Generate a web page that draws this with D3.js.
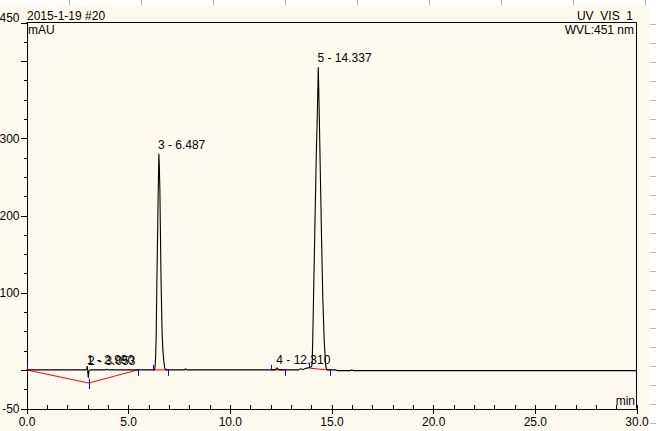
<!DOCTYPE html>
<html>
<head>
<meta charset="utf-8">
<script src="https://cdn.jsdelivr.net/npm/d3@7"></script>
<style>
  body { margin: 0; background: #ffffff; }
  text { font-family: "Liberation Sans", Arial, sans-serif; font-size: 12px; fill: #000; }
</style>
</head>
<body>
<script>
var width = 656, height = 431;

// chromatogram trace: [time (min), signal (mAU)]
var trace = [
  [0, 0], [2.90, 0], [2.96, 1], [2.99, 5], [3.01, -2], [3.04, -10], [3.07, -1], [3.12, 0],
  [3.88, 0], [3.95, 0.8], [4.03, 0],
  [6.30, 0], [6.33, 6], [6.36, 25], [6.38, 47], [6.41, 112], [6.45, 180], [6.48, 235], [6.51, 280],
  [6.53, 265], [6.56, 233], [6.59, 170], [6.62, 112], [6.67, 47], [6.71, 25], [6.75, 12], [6.80, 2], [6.86, 0],
  [7.76, 0], [7.82, 1.2], [7.90, 0],
  [12.22, 0], [12.28, 1], [12.32, 2.5], [12.36, 1], [12.45, 0],
  [13.38, 0], [13.48, 1.5], [13.60, 0.5], [13.75, 2], [13.90, 3], [14.00, 4],
  [14.03, 5], [14.05, 10], [14.08, 43], [14.13, 112], [14.18, 181], [14.25, 276], [14.30, 328], [14.35, 392],
  [14.40, 328], [14.46, 241], [14.51, 172], [14.57, 95], [14.64, 38], [14.72, 4], [14.78, 0],
  [15.20, 0], [15.30, -1], [15.92, -1], [16.00, 0], [16.08, -1], [30, -1]
];

// peak table
var peakNum = [1, 2, 3, 4, 5];
var peakRT = [2.990, 3.053, 6.487, 12.310, 14.337];
var peakApex = [1, 0.5, 280, 1, 392];

// integration baselines (red) and delimiters (blue)
var baselines = [
  [[0, 0], [3.06, -17], [5.48, 0]],
  [[6.21, 0], [6.93, 0]],
  [[12.00, 0], [12.69, 0]],
  [[13.87, 2.5], [14.40, 1], [14.92, 0]]
];
var delimiters = [
  [0, 0, "start"], [3.06, -17, "both"], [5.48, 0, "end"],
  [6.21, 0, "start"], [6.95, 0, "end"],
  [12.00, 0, "start"], [12.71, 0, "end"],
  [13.89, 2.5, "start"], [14.92, 0, "end"]
];

// axis ticks
var xMajor = [0, 5, 10, 15, 20, 25, 30];
var xMinor = d3.range(0, 31, 1);
var yMajor = [-50, 0, 100, 200, 300, 400, 450];
var yLabeled = [450, 300, 200, 100, -50];
var yMinor = d3.range(-50, 451, 25);

var svg = d3.select("body").append("svg")
    .attr("width", width)
    .attr("height", height);

// page chrome around the plot
svg.append("rect").attr("width", width).attr("height", height).attr("fill", "#fffaf0");
svg.append("rect").attr("width", width).attr("height", 5).attr("fill", "#ffffff");
svg.append("rect").attr("x", 650).attr("width", 6).attr("height", height).attr("fill", "#ffffff");
svg.selectAll(".gv").data(d3.range(0, 9)).enter().append("line")
    .attr("x1", d => 69.5 + 72 * d).attr("x2", d => 69.5 + 72 * d)
    .attr("y1", 0).attr("y2", 5)
    .attr("stroke", "#b8b8b8");
svg.selectAll(".gh").data(d3.range(0, 22)).enter().append("line")
    .attr("x1", 650).attr("x2", 656)
    .attr("y1", d => 24.5 + 19 * d).attr("y2", d => 24.5 + 19 * d)
    .attr("stroke", "#b8b8b8");

var x = d3.scaleLinear().domain([0, 30]).range([26.5, 636.5]);
var y = d3.scaleLinear().domain([-50, 450]).range([408.5, 22.5]);

// frame: top and right
svg.append("line").attr("x1", x(0)).attr("x2", x(30)).attr("y1", y(450)).attr("y2", y(450))
    .attr("stroke", "#000");
svg.append("line").attr("x1", x(30)).attr("x2", x(30)).attr("y1", y(450)).attr("y2", y(-50))
    .attr("stroke", "#000");

// y axis
var gy = svg.append("g").attr("transform", "translate(" + x(0) + ",0)");
gy.append("g").call(d3.axisLeft(y).tickValues(yMinor).tickSize(3).tickFormat(""))
    .call(g => g.select(".domain").remove());
gy.append("g").call(d3.axisLeft(y).tickValues(yMajor).tickSize(6).tickSizeOuter(0).tickPadding(1)
    .tickFormat(d => yLabeled.indexOf(d) >= 0 ? d : ""));
gy.selectAll("text").style("font-size", "12px").attr("fill", "#000")
    .filter(d => d === 450).attr("dy", "-0.05em");

// x axis
var gx = svg.append("g").attr("transform", "translate(0," + y(-50) + ")");
gx.append("g").call(d3.axisBottom(x).tickValues(xMinor).tickSize(-4).tickFormat(""))
    .call(g => g.select(".domain").remove());
gx.append("g").call(d3.axisBottom(x).tickValues(xMajor).tickSize(5).tickSizeOuter(0).tickPadding(4)
    .tickFormat(d3.format(".1f")));
gx.selectAll("text").style("font-size", "12px").attr("fill", "#000");
svg.selectAll(".domain, .tick line").attr("stroke", "#000").attr("shape-rendering", "crispEdges");

// integration baselines
var line = d3.line().x(d => x(d[0])).y(d => y(d[1]));
svg.selectAll(".base").data(baselines).enter().append("path")
    .attr("d", line).attr("fill", "none").attr("stroke", "#ff0000").attr("stroke-width", 1);

// signal trace
svg.append("path").datum(trace)
    .attr("d", line).attr("fill", "none").attr("stroke", "#000").attr("stroke-width", 1.1);

// peak delimiters
svg.selectAll(".delim").data(delimiters).enter().append("line")
    .attr("x1", d => Math.round(x(d[0])) + 0.5).attr("x2", d => Math.round(x(d[0])) + 0.5)
    .attr("y1", d => y(d[1]) + (d[2] === "start" ? -5 : d[2] === "both" ? -4.5 : 0))
    .attr("y2", d => y(d[1]) + (d[2] === "start" ? 0 : 6))
    .attr("stroke", "#0000ff");

// peak labels
svg.selectAll(".plab").data(peakNum).enter().append("text")
    .attr("x", (d, i) => x(peakRT[i]) - 0.5)
    .attr("y", (d, i) => y(peakApex[i]) - 5)
    .text((d, i) => d + " - " + peakRT[i].toFixed(3));

// header and unit texts
svg.append("text").attr("x", 27).attr("y", 20).text("2015-1-19 #20");
svg.append("text").attr("x", 28).attr("y", 33.5).text("mAU");
svg.append("text").attr("x", 633).attr("y", 19.5).attr("text-anchor", "end").text("UV_VIS_1");
svg.append("text").attr("x", 634).attr("y", 33.5).attr("text-anchor", "end").text("WVL:451 nm");
svg.append("text").attr("x", 635).attr("y", 405).attr("text-anchor", "end").text("min");
</script>
</body>
</html>
